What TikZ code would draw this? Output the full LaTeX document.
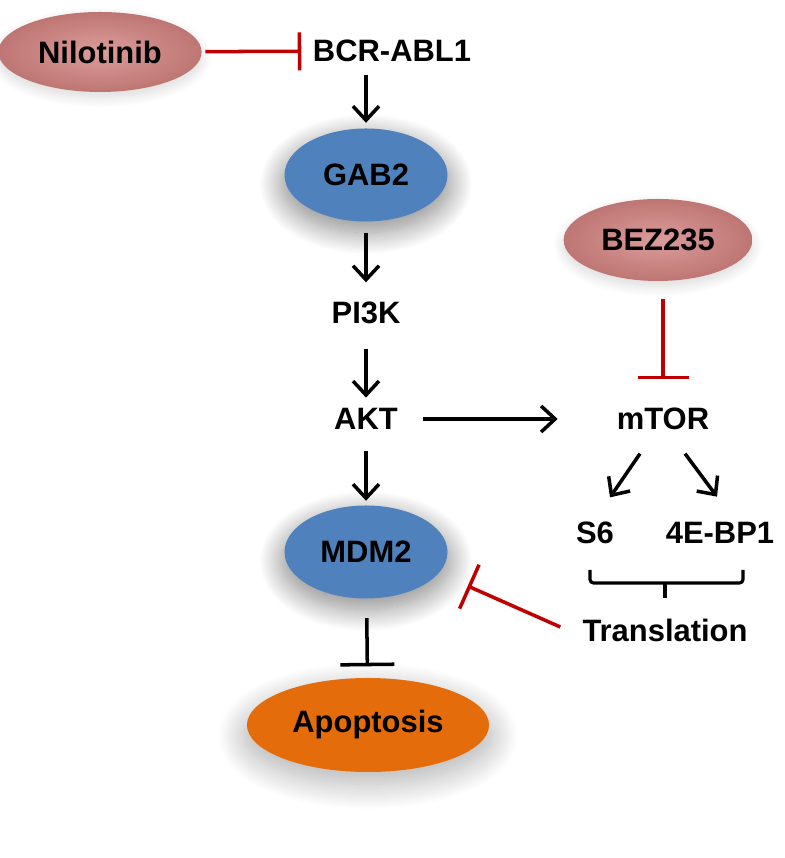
\documentclass[tikz,border=0pt]{standalone}
\usepackage{fontspec}
\setmainfont{Liberation Sans}
\usetikzlibrary{shapes.geometric,arrows.meta,shadows.blur}
\definecolor{drugpink}{HTML}{DB9C9A}
\definecolor{drugedge}{HTML}{BE7674}
\definecolor{protblue}{HTML}{4F81BD}
\definecolor{apoorange}{HTML}{E46C0A}
\definecolor{inhred}{HTML}{C00000}

\begin{document}
\begin{tikzpicture}[font=\fontsize{8.8}{10}\selectfont\bfseries,
    every node/.style={inner sep=1mm},
    drug/.style={ellipse, shading=radial, inner color=drugpink, outer color=drugedge,
        minimum width=1.86cm, minimum height=0.8cm,
        blur shadow={shadow xshift=0pt, shadow yshift=-1.5pt, shadow blur radius=3pt, shadow blur steps=12, shadow opacity=15}},
    prot/.style={ellipse, fill=protblue, minimum width=1.63cm, minimum height=0.93cm,
        blur shadow={shadow xshift=0pt, shadow yshift=-2.5pt, shadow blur radius=6pt, shadow blur steps=25, shadow opacity=45, shadow scale=1.04}},
    act/.style={-{Straight Barb[length=1.4mm,width=2.6mm]}, line width=1pt},
    inh/.style={-{Bar[width=#1]}, line width=1pt}]
\useasboundingbox (0,0) rectangle (7.84,8.58);

\node[drug] (nilo) at (1.00,8.06) {Nilotinib};
\node (bcr) at (3.92,8.07) {BCR-ABL1};
\node[prot] (gab) at (3.66,6.83) {GAB2};
\node (pik) at (3.66,5.45) {PI3K};
\node (akt) at (3.66,4.39) {AKT};
\node[prot] (mdm) at (3.66,3.06) {MDM2};
\node[ellipse, fill=apoorange, minimum width=2.34cm, minimum height=0.94cm,
    blur shadow={shadow xshift=0pt, shadow yshift=-3pt, shadow blur radius=7pt, shadow blur steps=25, shadow opacity=30, shadow scale=1.03}]
    (apop) at (3.68,1.33) {Apoptosis};

\node[drug, minimum width=1.85cm, minimum height=0.82cm] (bez) at (6.58,6.18) {BEZ235};
\node (mtor) at (6.63,4.39) {mTOR};
\node (s6) at (5.95,3.25) {S6};
\node (ebp) at (7.20,3.25) {4E-BP1};
\node (trans) at (6.65,2.28) {Translation};

\draw[inh=3.8mm, inhred, shorten <=0.3mm, shorten >=0.1mm] (nilo) -- (bcr);
\draw[act, shorten <=0.2mm, shorten >=0.5mm] (bcr.south -| gab) -- (gab);
\draw[act, shorten <=1.05mm, shorten >=0.9mm] (gab) -- (pik);
\draw[act, shorten <=1.4mm] (pik) -- (akt);
\draw[act, shorten <=1.1mm, shorten >=0.4mm] (akt) -- (mdm);
\draw[act, shorten <=1.5mm, shorten >=4.85mm] (akt) -- (mtor);
\draw[inh=5.1mm, inhred, shorten <=1.7mm, shorten >=1.8mm] (bez.south -| mtor) -- (mtor);
\draw[act] ([shift={(-0.23,-0.13)}]mtor.south) -- ([shift={(0.15,0.14)}]s6.north);
\draw[act] ([shift={(0.22,-0.13)}]mtor.south) -- ([shift={(-0.03,0.15)}]ebp.north);

\draw[line width=0.9pt, rounded corners=1pt] (5.90,2.88) -- (5.90,2.75) -- (7.43,2.75) -- (7.43,2.88);
\draw[line width=0.9pt] (6.65,2.75) -- (6.65,2.60);

\draw[inh=4.8mm, inhred] ([shift={(-0.115,0.03)}]trans.west) -- ([shift={(0.195,-0.34)}]mdm.east);
\draw[inh=5.4mm, shorten <=1.9mm, shorten >=1.1mm] (mdm) -- (apop);
\end{tikzpicture}
\end{document}
